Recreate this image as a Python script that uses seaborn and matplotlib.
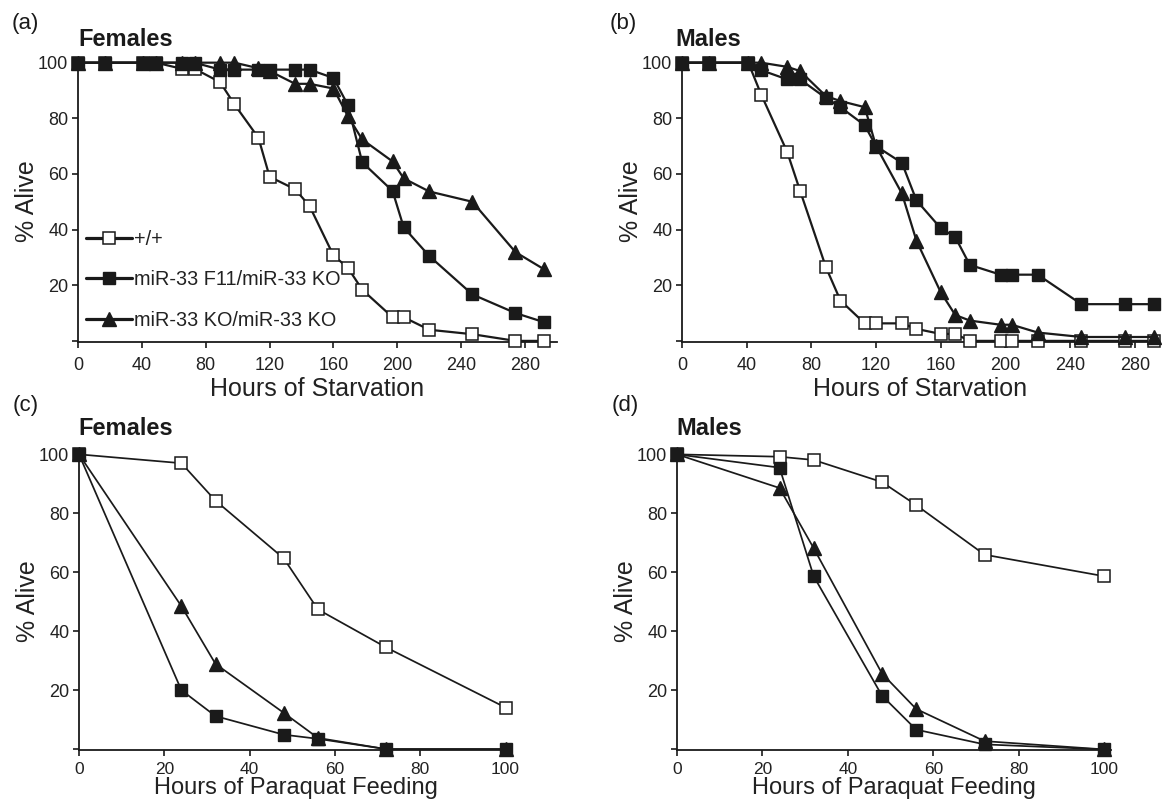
import matplotlib
matplotlib.use("Agg")
import matplotlib.pyplot as plt
import seaborn as sns
import pandas as pd

# ---------------- data ----------------
hours_starv = [0, 17, 41, 49, 65, 73, 89, 98, 113, 120, 136, 145, 160, 169, 178, 197, 204, 220, 247, 274, 292]
hours_para = [0, 24, 32, 48, 56, 72, 100]

series_names = ["+/+", "miR-33 F11/miR-33 KO", "miR-33 KO/miR-33 KO"]

# (a) Females, starvation
fem_starv_wt = [100, 100, 100, 100, 97.8, 97.8, 93, 85, 73, 59, 54.5, 48.5, 30.7, 26.3, 18.4, 8.5, 8.5, 4, 2.4, 0, 0]
fem_starv_f11 = [100, 100, 100, 100, 100, 100, 97.5, 97.5, 97.5, 97.5, 97.5, 97.5, 94.5, 84.8, 64.2, 53.9, 40.8, 30.5, 16.7, 10, 6.7]
fem_starv_ko = [100, 100, 100, 100, 100, 100, 100, 100, 98, 97, 92.4, 92.4, 90.7, 80.8, 72.4, 64.5, 58.4, 53.7, 50, 31.9, 25.7]

# (b) Males, starvation
male_starv_wt = [100, 100, 100, 88.5, 68, 54, 26.5, 14.5, 6.3, 6.3, 6.3, 4.3, 2.5, 2.5, 0, 0, 0, 0, 0, 0, 0]
male_starv_f11 = [100, 100, 100, 97.3, 94, 94, 87.3, 84, 77.5, 70, 64, 50.5, 40.5, 37.3, 27.3, 23.8, 23.8, 23.8, 13.2, 13.2, 13.2]
male_starv_ko = [100, 100, 100, 100, 98.5, 97, 88, 86.2, 84, 70, 53, 36, 17.5, 9.3, 7.3, 5.8, 5.8, 3, 1.4, 1.4, 1.4]

# (c) Females, paraquat
fem_para_wt = [100, 97, 84.3, 64.7, 47.4, 34.5, 14.1]
fem_para_f11 = [100, 20, 11.2, 4.9, 3.5, 0, 0]
fem_para_ko = [100, 48.5, 28.9, 12.3, 3.8, 0, 0]

# (d) Males, paraquat
male_para_wt = [100, 99.2, 98.1, 90.6, 82.8, 66, 58.7]
male_para_f11 = [100, 95.5, 58.7, 18.2, 6.7, 1.7, 0]
male_para_ko = [100, 88.6, 68.2, 25.7, 13.7, 2.8, 0]

# ---------------- style ----------------
sns.set_style("ticks")
plt.rcParams["font.family"] = ["Liberation Sans", "DejaVu Sans"]
plt.rcParams["axes.linewidth"] = 1.3

W, H = 1162, 809
fig = plt.figure(figsize=(W / 100, H / 100), dpi=100)


def px_axes(left, top, right, bottom):
    return fig.add_axes([left / W, 1 - bottom / H, (right - left) / W, (bottom - top) / H])


INK = "#1a1a1a"
styles = [
    dict(marker="s", markerfacecolor="white", markeredgecolor=INK, markersize=8.5, markeredgewidth=1.1),
    dict(marker="s", markerfacecolor=INK, markeredgecolor=INK, markersize=8.5, markeredgewidth=1.0),
    dict(marker="^", markerfacecolor=INK, markeredgecolor=INK, markersize=9.5, markeredgewidth=1.0),
]
draw_order = [0, 2, 1]  # open squares, triangles, then filled squares on top


def panel(ax, hours, series, lw, xlim, xticks, ylim, xlabel, xlabelpad,
          xlabelsize=18, xtickpad=6.5, xticksize=13):
    for i in draw_order:
        df = pd.DataFrame({"hours": hours, "alive": series[i]})
        sns.lineplot(data=df, x="hours", y="alive", ax=ax, color=INK, linewidth=lw,
                     clip_on=False, label=series_names[i], legend=False,
                     zorder=3 + i, **styles[i])
    ax.set_xlim(*xlim)
    ax.set_ylim(*ylim)
    ax.set_xticks(xticks)
    ax.set_xticklabels([str(t) for t in xticks])
    ax.set_yticks([0, 20, 40, 60, 80, 100])
    ax.set_yticklabels(["", "20", "40", "60", "80", "100"])
    ax.tick_params(axis="both", direction="out", length=4, width=1.2, colors=INK,
                   labelsize=13, labelcolor="#222222")
    ax.tick_params(axis="y", pad=3)
    ax.tick_params(axis="x", pad=xtickpad, labelsize=xticksize)
    ax.set_xlabel(xlabel, fontsize=xlabelsize, color="#222222", labelpad=xlabelpad)
    ax.set_ylabel("% Alive", fontsize=18, color="#222222", labelpad=-1)
    sns.despine(ax=ax)
    for s in ("left", "bottom"):
        ax.spines[s].set_color(INK)


ax_a = px_axes(78, 61, 557, 342)
panel(ax_a, hours_starv, [fem_starv_wt, fem_starv_f11, fem_starv_ko], 1.6,
      (0, 300), list(range(0, 281, 40)), (-0.4, 100.6), "Hours of Starvation", 2.5)

ax_b = px_axes(682, 61, 1159, 342)
panel(ax_b, hours_starv, [male_starv_wt, male_starv_f11, male_starv_ko], 1.6,
      (0, 295), list(range(0, 281, 40)), (-0.4, 100.6), "Hours of Starvation", 2.5)

ax_c = px_axes(79, 452, 512, 750)
panel(ax_c, hours_para, [fem_para_wt, fem_para_f11, fem_para_ko], 1.25,
      (0, 101.5), list(range(0, 101, 20)), (-0.3, 100.8), "Hours of Paraquat Feeding", 0,
      xlabelsize=17, xtickpad=4.5, xticksize=12.5)

ax_d = px_axes(677, 452, 1111, 750)
panel(ax_d, hours_para, [male_para_wt, male_para_f11, male_para_ko], 1.25,
      (0, 101.6), list(range(0, 101, 20)), (-0.2, 100.8), "Hours of Paraquat Feeding", 0,
      xlabelsize=17, xtickpad=4.5, xticksize=12.5)

# legend in panel (a)
handles, labels = ax_a.get_legend_handles_labels()
order = [labels.index(n) for n in series_names]
leg = ax_a.legend([handles[k] for k in order], [labels[k] for k in order],
                  loc="upper left", bbox_to_anchor=(86 / W, 1 - 230 / H),
                  bbox_transform=fig.transFigure, frameon=False, fontsize=14.3,
                  handlelength=2.3, handletextpad=0.12, labelspacing=1.08,
                  borderpad=0, borderaxespad=0, numpoints=1)
for t in leg.get_texts():
    t.set_color("#222222")
for h in leg.legend_handles:
    h.set_linewidth(2.3)


def ftext(x, y, s, **kw):
    fig.text(x / W, 1 - y / H, s, color="#1a1a1a", **kw)


ftext(12, 24, "(a)", fontsize=16, va="center", ha="left")
ftext(78, 46, "Females", fontsize=17, fontweight="bold", va="baseline", ha="left")
ftext(610, 24, "(b)", fontsize=16, va="center", ha="left")
ftext(675, 46, "Males", fontsize=17, fontweight="bold", va="baseline", ha="left")
ftext(13, 405, "(c)", fontsize=16, va="center", ha="left")
ftext(78, 435, "Females", fontsize=17, fontweight="bold", va="baseline", ha="left")
ftext(612, 405, "(d)", fontsize=16, va="center", ha="left")
ftext(676, 435, "Males", fontsize=17, fontweight="bold", va="baseline", ha="left")

fig.savefig("out.png", dpi=100, facecolor="white")
